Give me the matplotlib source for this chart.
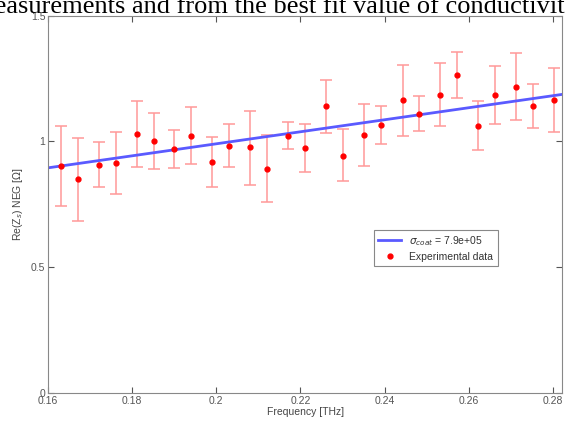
import numpy as np
import matplotlib.pyplot as plt

plt.rcParams['font.family'] = ['Liberation Sans', 'DejaVu Sans']

freq = [0.1630, 0.1671, 0.1720, 0.1761, 0.1812, 0.1851, 0.1900, 0.1940, 0.1990,
        0.2031, 0.2081, 0.2121, 0.2171, 0.2211, 0.2261, 0.2301, 0.2352, 0.2391,
        0.2443, 0.2482, 0.2532, 0.2571, 0.2623, 0.2662, 0.2712, 0.2753, 0.2802]
re_zs = [0.903, 0.849, 0.907, 0.913, 1.028, 1.000, 0.968, 1.022, 0.917,
         0.981, 0.976, 0.891, 1.020, 0.972, 1.139, 0.944, 1.024, 1.064,
         1.163, 1.110, 1.183, 1.265, 1.061, 1.183, 1.217, 1.139, 1.163]
err_hi = [1.060, 1.012, 0.997, 1.038, 1.159, 1.114, 1.044, 1.138, 1.016,
          1.068, 1.122, 1.026, 1.077, 1.068, 1.246, 1.048, 1.149, 1.140,
          1.303, 1.179, 1.310, 1.354, 1.159, 1.300, 1.352, 1.227, 1.293]
err_lo = [0.744, 0.684, 0.820, 0.789, 0.897, 0.889, 0.894, 0.910, 0.820,
          0.898, 0.826, 0.758, 0.968, 0.877, 1.034, 0.842, 0.901, 0.989,
          1.021, 1.040, 1.060, 1.173, 0.965, 1.069, 1.085, 1.052, 1.037]

fit_f = [0.16, 0.2822]
fit_z = [0.895, 1.187]

freq, re_zs = np.array(freq), np.array(re_zs)
yerr = [re_zs - np.array(err_lo), np.array(err_hi) - re_zs]

fig = plt.figure(figsize=(5.65, 4.23), dpi=100)
ax = fig.add_axes([0.085, 0.071, 0.91, 0.892])

# caption line of the page, cut by the image border
fig.text(-0.046, 1 - 13 / 423, "measurements and from the best fit value of conductivity",
         family='Liberation Serif', fontsize=19, va='baseline', ha='left')

ax.errorbar(freq, re_zs, yerr=yerr, fmt='none', ecolor=(1, 0.6, 0.6),
            elinewidth=1.1, capsize=4, capthick=1.1)
ax.plot(fit_f, fit_z, color='#5a5aff', lw=2, label=r'$\sigma_{coat}$ = 7.9e+05')
ax.plot(freq, re_zs, '.', color='red', ms=7, label='Experimental data')

ax.set_xlim(0.16, 0.2822)
ax.set_ylim(0, 1.5)
ax.set_xticks([0.16, 0.18, 0.2, 0.22, 0.24, 0.26, 0.28])
ax.set_xticklabels(["0.16", "0.18", "0.2", "0.22", "0.24", "0.26", "0.28"])
ax.set_yticks([0, 0.5, 1, 1.5])
ax.set_yticklabels(["0", "0.5", "1", "1.5"])
ax.tick_params(direction='in', top=True, right=True, labelsize=7.5,
               colors='#555555', length=4, pad=2)
for s in ax.spines.values():
    s.set_color('#888888')

ax.set_xlabel("Frequency [THz]", fontsize=7.5, color='#444444', labelpad=1)
ax.set_ylabel(r"Re(Z$_s$) NEG [$\Omega$]", fontsize=7.5, color='#444444', labelpad=4)

leg = ax.legend(loc='lower left', bbox_to_anchor=(0.624, 0.322), fontsize=7.5,
                fancybox=False, edgecolor='#888888', framealpha=1,
                handlelength=2.2, borderpad=0.4, labelspacing=0.4)
leg.get_frame().set_linewidth(0.8)
for t in leg.get_texts():
    t.set_color('#333333')

fig.savefig("out.png", dpi=100)
